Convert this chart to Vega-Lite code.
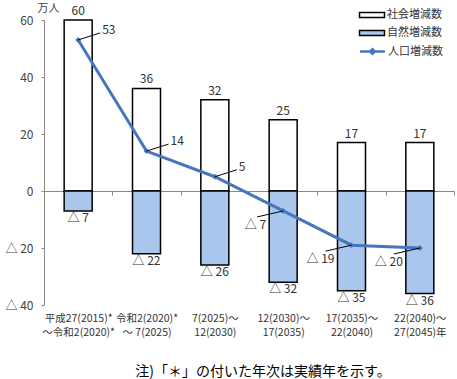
{
  "$schema": "https://vega.github.io/schema/vega-lite/v6.json",
  "width": 410,
  "height": 285,
  "autosize": {"type": "none"},
  "padding": {"left": 44, "top": 20, "right": 3, "bottom": 74},
  "config": {"font": "Noto Sans CJK JP", "view": {"stroke": null}},
  "datasets": {
    "bars": [
      {"cat": "平成27(2015)*|～令和2(2020)*", "series": "社会増減数", "value": 60, "label": "60"},
      {"cat": "令和2(2020)*|～ 7(2025)", "series": "社会増減数", "value": 36, "label": "36"},
      {"cat": "7(2025)～|12(2030)", "series": "社会増減数", "value": 32, "label": "32"},
      {"cat": "12(2030)～|17(2035)", "series": "社会増減数", "value": 25, "label": "25"},
      {"cat": "17(2035)～|22(2040)", "series": "社会増減数", "value": 17, "label": "17"},
      {"cat": "22(2040)～|27(2045)年", "series": "社会増減数", "value": 17, "label": "17"},
      {"cat": "平成27(2015)*|～令和2(2020)*", "series": "自然増減数", "value": -7, "label": "△ 7"},
      {"cat": "令和2(2020)*|～ 7(2025)", "series": "自然増減数", "value": -22, "label": "△ 22"},
      {"cat": "7(2025)～|12(2030)", "series": "自然増減数", "value": -26, "label": "△ 26"},
      {"cat": "12(2030)～|17(2035)", "series": "自然増減数", "value": -32, "label": "△ 32"},
      {"cat": "17(2035)～|22(2040)", "series": "自然増減数", "value": -35, "label": "△ 35"},
      {"cat": "22(2040)～|27(2045)年", "series": "自然増減数", "value": -36, "label": "△ 36"}
    ],
    "pop": [
      {"cat": "平成27(2015)*|～令和2(2020)*", "s": "人口増減数", "value": 53, "label": "53"},
      {"cat": "令和2(2020)*|～ 7(2025)", "s": "人口増減数", "value": 14, "label": "14"},
      {"cat": "7(2025)～|12(2030)", "s": "人口増減数", "value": 5, "label": "5"},
      {"cat": "12(2030)～|17(2035)", "s": "人口増減数", "value": -7, "label": "△ 7"},
      {"cat": "17(2035)～|22(2040)", "s": "人口増減数", "value": -19, "label": "△ 19"},
      {"cat": "22(2040)～|27(2045)年", "s": "人口増減数", "value": -20, "label": "△ 20"}
    ]
  },
  "title": {
    "text": "注)「＊」の付いた年次は実績年を示す。",
    "orient": "bottom",
    "anchor": "middle",
    "fontSize": 14,
    "fontWeight": "normal",
    "color": "#000",
    "dx": 14,
    "offset": 27
  },
  "layer": [
    {
      "data": {"name": "bars"},
      "mark": {"type": "bar", "stroke": "#000", "strokeWidth": 1.5, "width": 28},
      "encoding": {
        "x": {
          "field": "cat", "type": "nominal", "sort": null,
          "scale": {"paddingInner": 0, "paddingOuter": 0},
          "axis": {
            "title": null, "orient": "bottom", "offset": -114,
            "domainColor": "#888", "tickColor": "#888", "tickBand": "extent", "tickSize": 4,
            "labelPadding": 118, "labelAngle": 0, "labelFontSize": 10.5, "labelColor": "#333",
            "labelExpr": "split(datum.label, '|')", "labelLineHeight": 14
          }
        },
        "y": {
          "field": "value", "type": "quantitative",
          "scale": {"domain": [-40, 60], "nice": false, "zero": false},
          "axis": {
            "title": "万人", "titleAngle": 0, "titleX": 4, "titleY": -12, "titleAlign": "center",
            "titleBaseline": "middle", "titleFontSize": 11, "titleFontWeight": "normal", "titleColor": "#444",
            "values": [-40, -20, 0, 20, 40, 60],
            "labelExpr": "datum.value < 0 ? '△ ' + abs(datum.value) : datum.label",
            "grid": false, "domainColor": "#888", "tickColor": "#888", "tickSize": 3,
            "labelPadding": 8, "labelFontSize": 12, "labelColor": "#444"
          }
        },
        "fill": {
          "field": "series", "type": "nominal",
          "scale": {"domain": ["社会増減数", "自然増減数"], "range": ["#ffffff", "#a9c6ec"]},
          "legend": {
            "title": null, "orient": "none", "legendX": 320.5, "legendY": -12.5, "padding": 0,
            "symbolType": "M-1.92,-0.38H1.92V0.38H-1.92Z", "symbolSize": 169, "symbolStrokeColor": "#000",
            "symbolStrokeWidth": 1.5, "labelOffset": 7.5, "labelFontSize": 11, "labelColor": "#333",
            "rowPadding": 5
          }
        }
      }
    },
    {
      "data": {"name": "pop"},
      "mark": {
        "type": "line", "strokeWidth": 3,
        "point": {"shape": "diamond", "size": 35, "filled": true, "color": "#4677be"}
      },
      "encoding": {
        "x": {"field": "cat", "type": "nominal", "sort": null},
        "y": {"field": "value", "type": "quantitative"},
        "color": {
          "field": "s", "type": "nominal",
          "scale": {"domain": ["人口増減数"], "range": ["#4677be"]},
          "legend": {
            "title": null, "orient": "none", "legendX": 320.5, "legendY": 23.5, "padding": 0,
            "symbolType": "M-1.92,0H1.92M-0.35,0L0,-0.35L0.35,0L0,0.35Z", "symbolSize": 169,
            "symbolStrokeWidth": 2.5, "symbolFillColor": "#4677be",
            "labelOffset": 7.5, "labelFontSize": 11, "labelColor": "#333"
          }
        }
      }
    },
    {
      "data": {"name": "pop"},
      "transform": [{"filter": "datum.value > 0"}],
      "mark": {"type": "rule", "color": "#000", "strokeWidth": 1, "x2Offset": 22, "y2Offset": -7},
      "encoding": {
        "x": {"field": "cat", "type": "nominal", "sort": null, "bandPosition": 0.5},
        "x2": {"field": "cat", "bandPosition": 0.5},
        "y": {"field": "value", "type": "quantitative"},
        "y2": {"field": "value"}
      }
    },
    {
      "data": {"name": "pop"},
      "transform": [{"filter": "datum.value < 0"}],
      "mark": {"type": "rule", "color": "#000", "strokeWidth": 1, "x2Offset": -26, "y2Offset": 6},
      "encoding": {
        "x": {"field": "cat", "type": "nominal", "sort": null, "bandPosition": 0.5},
        "x2": {"field": "cat", "bandPosition": 0.5},
        "y": {"field": "value", "type": "quantitative"},
        "y2": {"field": "value"}
      }
    },
    {
      "data": {"name": "pop"},
      "transform": [{"filter": "datum.value > 0"}],
      "mark": {"type": "text", "align": "left", "baseline": "middle", "dx": 24, "dy": -10, "fontSize": 12, "color": "#333"},
      "encoding": {
        "x": {"field": "cat", "type": "nominal", "sort": null},
        "y": {"field": "value", "type": "quantitative"},
        "text": {"field": "label"}
      }
    },
    {
      "data": {"name": "pop"},
      "transform": [{"filter": "datum.value < 0"}],
      "mark": {"type": "text", "align": "right", "baseline": "middle", "dx": -17, "dy": 14, "fontSize": 12, "color": "#333"},
      "encoding": {
        "x": {"field": "cat", "type": "nominal", "sort": null},
        "y": {"field": "value", "type": "quantitative"},
        "text": {"field": "label"}
      }
    },
    {
      "data": {"name": "bars"},
      "transform": [{"filter": "datum.value > 0"}],
      "mark": {"type": "text", "align": "center", "baseline": "bottom", "dy": -2, "fontSize": 12, "color": "#333"},
      "encoding": {
        "x": {"field": "cat", "type": "nominal", "sort": null},
        "y": {"field": "value", "type": "quantitative"},
        "text": {"field": "label"}
      }
    },
    {
      "data": {"name": "bars"},
      "transform": [{"filter": "datum.value < 0"}],
      "mark": {"type": "text", "align": "center", "baseline": "top", "dy": 2, "fontSize": 12, "color": "#333"},
      "encoding": {
        "x": {"field": "cat", "type": "nominal", "sort": null},
        "y": {"field": "value", "type": "quantitative"},
        "text": {"field": "label"}
      }
    }
  ]
}
